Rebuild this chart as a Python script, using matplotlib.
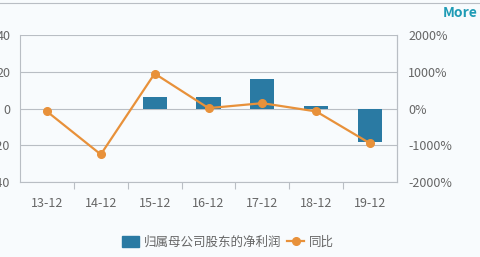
import numpy as np
import matplotlib.pyplot as plt
from matplotlib.lines import Line2D

plt.rcParams['font.family'] = ['Noto Sans CJK SC', 'DejaVu Sans']
plt.rcParams['axes.unicode_minus'] = False

# 数据
cats = ['13-12', '14-12', '15-12', '16-12', '17-12', '18-12', '19-12']
profit = [0, 0, 6.5, 6.2, 15.8, 1.5, -18.5]
yoy = [-80, -1250, 950, 10, 145, -80, -950]

bg = '#f8fbfd'
bar_c = '#2a7aa3'
line_c = '#e8913a'
grid_c = '#b9bec4'
txt_c = '#666666'
fs = 9

fig = plt.figure(figsize=(4.8, 2.57), dpi=100, facecolor=bg)
ax = fig.add_axes([20/480, 1-182/257, 377/480, 147/257])
ax.set_facecolor(bg)

x = np.arange(len(cats))
ax.bar(x, profit, width=0.45, color=bar_c, zorder=3)
ax.set_xlim(-0.5, len(cats)-0.5)
ax.set_ylim(-40, 40)
ax.set_yticks([-40, -20, 0, 20, 40])
ax.yaxis.grid(True, color=grid_c, lw=0.8, zorder=0)
ax.set_xticks(x)
ax.set_xticklabels(cats)
ax.set_xticks(np.arange(0.5, len(cats)-1, 1), minor=True)
ax.tick_params(axis='x', which='major', length=0, pad=11, labelsize=fs, labelcolor=txt_c)
ax.tick_params(axis='x', which='minor', length=5, color=grid_c, width=0.8)
ax.tick_params(axis='y', length=0, pad=7, labelsize=fs, labelcolor=txt_c)
ax.spines['top'].set_visible(False)
for s in ['left', 'right', 'bottom']:
    ax.spines[s].set_color(grid_c)
    ax.spines[s].set_linewidth(0.8)

ax2 = ax.twinx()
ax2.plot(x, yoy, color=line_c, lw=1.6, marker='o', ms=5.5, zorder=5)
ax2.set_ylim(-2000, 2000)
ax2.set_yticks([-2000, -1000, 0, 1000, 2000])
ax2.set_yticklabels([f'{v}%' for v in [-2000, -1000, 0, 1000, 2000]])
ax2.tick_params(axis='y', length=0, pad=8, labelsize=fs, labelcolor=txt_c)
for s in ['top', 'left', 'bottom']:
    ax2.spines[s].set_visible(False)
ax2.spines['right'].set_color(grid_c)
ax2.spines['right'].set_linewidth(0.8)

# 图例
handles = [plt.Rectangle((0, 0), 1, 1, color=bar_c),
           Line2D([], [], color=line_c, lw=1.6, marker='o', ms=5.5)]
fig.legend(handles, ['归属母公司股东的净利润', '同比'], loc='center',
           bbox_to_anchor=(228/480, 1-242/257), ncol=2, frameon=False,
           fontsize=fs, labelcolor=txt_c, handlelength=1.3, handleheight=1.0,
           columnspacing=0.5, handletextpad=0.4)

fig.add_artist(Line2D([0, 1], [1-3/257, 1-3/257], color=grid_c, lw=0.8))
fig.text(443/480, 1-13/257, 'More', color='#1e9bb5', fontsize=10,
         fontweight='bold', va='center', ha='left')

fig.savefig('out.png', dpi=100, facecolor=bg)
